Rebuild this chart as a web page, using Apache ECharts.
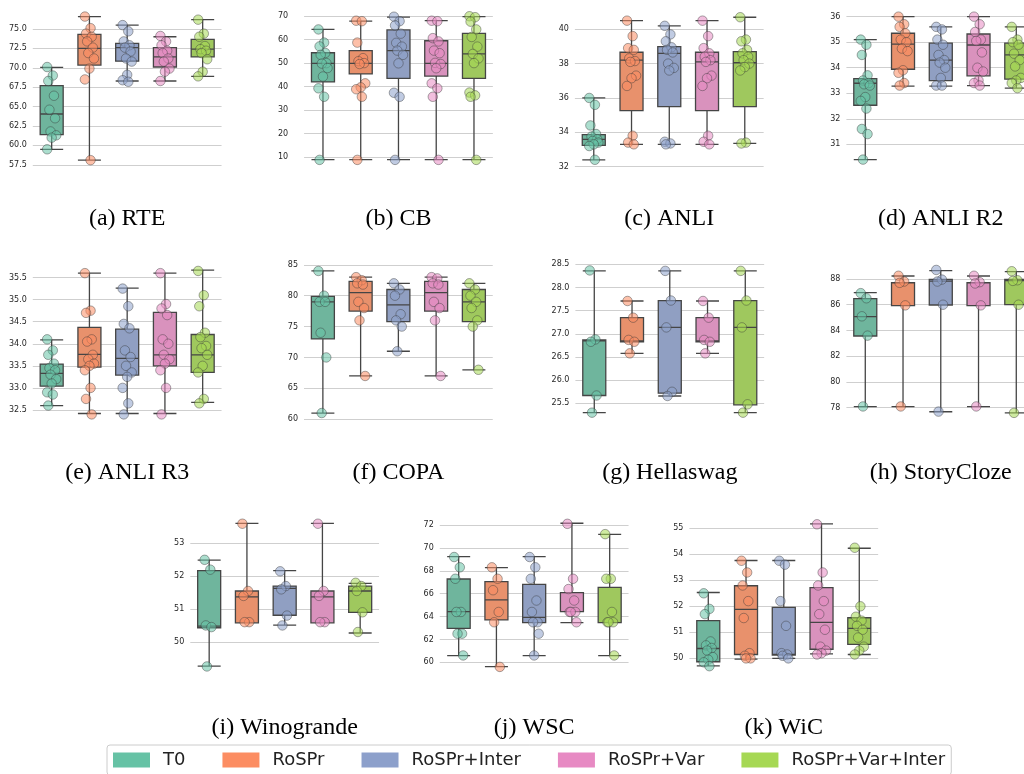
<!DOCTYPE html>
<html>
<head>
<meta charset="utf-8">
<title>Prompt robustness per task</title>
<script src="https://cdn.jsdelivr.net/npm/echarts@6/dist/echarts.min.js"></script>
<style>
  html, body { margin: 0; padding: 0; background: #fff; }
  #chart { width: 1024px; height: 774px; }
</style>
</head>
<body>
<div id="chart"></div>
<script>
const GROUPS = ['T0', 'RoSPr', 'RoSPr+Inter', 'RoSPr+Var', 'RoSPr+Var+Inter'];

// box = [lower whisker, Q1, median, Q3, upper whisker]
const rteBox = [[59.5, 61.4, 64.05, 67.7, 70.05], [58.1, 70.35, 72.5, 74.3, 76.6], [68.3, 70.85, 72.6, 73.15, 75.5], [68.3, 70.1, 71.4, 72.6, 74.0], [68.9, 71.4, 72.4, 73.65, 76.2]];
const rtePoints = [
  [70.1, 69.0, 68.3, 66.4, 64.6, 63.5, 61.8, 61.3, 61.0, 59.5],
  [76.6, 75.1, 74.4, 74.0, 73.4, 72.6, 71.9, 71.2, 69.9, 68.5, 58.1],
  [75.5, 74.7, 73.4, 72.9, 72.6, 72.1, 71.2, 70.8, 69.1, 68.4, 68.2],
  [74.1, 73.4, 72.9, 72.2, 71.9, 71.2, 70.8, 69.9, 69.5, 68.3],
  [76.2, 74.4, 74.0, 72.8, 72.4, 72.2, 71.9, 71.1, 69.5, 68.9]
];
const rteTicks = [57.5, 60, 62.5, 65, 67.5, 70, 72.5, 75];

const cbBox = [[9.0, 42.0, 49.9, 54.4, 64.3], [9.0, 45.4, 49.9, 55.3, 67.8], [9.0, 43.5, 55.3, 64.1, 69.5], [9.0, 44.5, 49.9, 59.5, 68.0], [9.0, 43.5, 53.9, 62.6, 69.7]];
const cbPoints = [
  [64.3, 58.7, 57.1, 54.3, 53.5, 50.0, 49.8, 47.9, 44.3, 39.3, 35.7, 8.9],
  [68.0, 67.8, 58.7, 52.1, 50.8, 50.0, 49.6, 41.4, 39.7, 38.9, 35.7, 8.9],
  [69.7, 67.8, 66.0, 62.5, 58.6, 57.0, 55.3, 53.5, 49.9, 37.4, 35.7, 8.9],
  [68.0, 67.8, 60.6, 59.2, 55.3, 54.2, 50.1, 49.6, 47.8, 41.4, 39.3, 35.7, 8.9],
  [69.9, 69.5, 67.6, 64.3, 61.1, 57.0, 53.9, 52.0, 50.0, 37.5, 36.3, 35.7, 8.9]
];
const cbTicks = [10, 20, 30, 40, 50, 60, 70];

const anliBox = [[32.4, 33.24, 33.59, 33.86, 36.0], [33.3, 35.26, 38.2, 38.66, 40.5], [33.3, 35.5, 38.6, 38.99, 40.2], [33.3, 35.26, 38.1, 38.66, 40.5], [33.35, 35.5, 38.05, 38.7, 40.7]];
const anliPoints = [
  [36.0, 35.6, 34.4, 33.9, 33.75, 33.6, 33.5, 33.4, 33.3, 33.2, 32.4],
  [40.5, 39.6, 38.9, 38.8, 38.3, 38.15, 38.1, 37.3, 37.15, 36.7, 33.8, 33.4, 33.3],
  [40.2, 39.7, 39.3, 38.95, 38.8, 38.65, 38.0, 37.75, 37.6, 33.45, 33.35, 33.3],
  [40.5, 39.6, 38.9, 38.6, 38.4, 38.2, 38.1, 37.3, 37.15, 36.7, 33.8, 33.45, 33.3],
  [40.7, 39.4, 39.3, 38.8, 38.6, 38.4, 38.2, 38.0, 37.8, 37.6, 33.4, 33.35]
];
const anliTicks = [32, 34, 36, 38, 40];

const anli2Box = [[30.4, 32.53, 33.39, 33.57, 35.1], [33.28, 33.94, 34.92, 35.35, 36.0], [33.28, 33.49, 34.3, 34.96, 35.6], [33.3, 33.68, 34.89, 35.32, 36.0], [33.2, 33.55, 34.5, 34.96, 35.6]];
const anli2Points = [
  [35.1, 34.9, 34.5, 33.7, 33.5, 33.4, 33.35, 33.3, 32.85, 32.7, 32.4, 31.6, 31.4, 30.4],
  [36.0, 35.7, 35.6, 35.35, 35.1, 35.0, 34.75, 34.65, 33.9, 33.8, 33.4, 33.3],
  [35.6, 35.5, 35.1, 34.9, 34.5, 34.3, 34.2, 34.0, 33.6, 33.3, 33.3],
  [36.0, 35.7, 35.4, 35.1, 35.05, 34.6, 34.0, 33.85, 33.5, 33.4, 33.3],
  [35.6, 35.1, 35.0, 34.9, 34.55, 34.3, 34.05, 33.6, 33.5, 33.4, 33.2]
];
const anli2Ticks = [31, 32, 33, 34, 35, 36];

const anli3Box = [[32.6, 33.04, 33.33, 33.54, 34.09], [32.42, 33.47, 33.76, 34.37, 35.6], [32.42, 33.29, 33.67, 34.33, 35.26], [32.42, 33.5, 33.75, 34.71, 35.6], [32.67, 33.35, 33.75, 34.21, 35.67]];
const anli3Points = [
  [34.1, 33.85, 33.75, 33.55, 33.45, 33.4, 33.3, 33.2, 33.1, 32.9, 32.85, 32.6],
  [35.6, 34.75, 34.7, 34.1, 34.05, 33.75, 33.65, 33.55, 33.5, 33.4, 33.0, 32.75, 32.4],
  [35.25, 34.85, 34.45, 34.35, 33.85, 33.7, 33.5, 33.35, 33.25, 33.0, 32.65, 32.4],
  [35.6, 34.9, 34.8, 34.65, 34.1, 34.0, 33.75, 33.65, 33.55, 33.4, 33.0, 32.4],
  [35.65, 35.1, 34.85, 34.25, 34.15, 33.95, 33.9, 33.75, 33.5, 33.35, 32.75, 32.65]
];
const anli3Ticks = [32.5, 33, 33.5, 34, 34.5, 35, 35.5];

const copaBox = [[61, 73, 79, 79.9, 84], [67, 77.5, 80.5, 82.3, 83], [71, 75.8, 78.5, 81, 82], [67, 77.5, 80.5, 82.3, 83], [68, 75.8, 79, 81, 82]];
const copaPoints = [
  [84, 80, 79, 79, 74, 70, 61],
  [83, 82.5, 82, 81.8, 79, 78, 76, 67],
  [82, 81, 80, 77, 76, 75, 71],
  [83, 82.8, 82, 81.8, 79, 78, 76, 67],
  [82, 81, 80, 79, 78, 76, 75, 68]
];
const copaTicks = [60, 65, 70, 75, 80, 85];

const hellaBox = [[25.3, 25.67, 26.85, 26.87, 28.36], [26.58, 26.83, 26.85, 27.35, 27.71], [25.66, 25.72, 27.14, 27.72, 28.36], [26.58, 26.83, 26.85, 27.35, 27.71], [25.3, 25.47, 27.14, 27.72, 28.36]];
const hellaPoints = [
  [28.37, 26.88, 26.83, 25.67, 25.3],
  [27.71, 27.35, 26.87, 26.83, 26.58],
  [28.36, 27.72, 27.14, 25.75, 25.66],
  [27.71, 27.35, 26.87, 26.83, 26.58],
  [28.36, 27.72, 27.14, 25.48, 25.3]
];
const hellaTicks = [25.5, 26, 26.5, 27, 27.5, 28, 28.5];

const storyBox = [[78.08, 83.57, 85.07, 86.47, 86.94], [78.08, 85.93, 87.7, 87.72, 88.23], [77.69, 85.98, 87.84, 87.97, 88.65], [78.08, 85.93, 87.7, 87.72, 88.23], [77.6, 86.0, 87.87, 87.97, 88.57]];
const storyPoints = [
  [86.9, 86.5, 85.1, 83.6, 78.1],
  [88.25, 87.8, 87.7, 85.95, 78.1],
  [88.7, 87.95, 87.8, 86.0, 77.7],
  [88.25, 87.75, 87.65, 85.95, 78.1],
  [88.6, 87.9, 87.85, 86.0, 77.6]
];
const storyTicks = [78, 80, 82, 84, 86, 88];

const winoBox = [[49.26, 50.43, 50.48, 52.17, 52.49], [50.58, 50.58, 51.37, 51.55, 53.61], [50.51, 50.81, 51.63, 51.7, 52.17], [50.58, 50.58, 51.37, 51.55, 53.61], [50.27, 50.9, 51.55, 51.7, 51.78]];
const winoPoints = [
  [52.5, 52.2, 50.5, 50.45, 49.25],
  [53.6, 51.55, 51.4, 50.6, 50.6],
  [52.15, 51.7, 51.6, 50.8, 50.5],
  [53.6, 51.55, 51.4, 50.6, 50.6],
  [51.8, 51.7, 51.55, 50.9, 50.3]
];
const winoTicks = [50, 51, 52, 53];

const wscBox = [[60.58, 62.97, 64.43, 67.28, 69.23], [59.62, 63.7, 65.45, 67.05, 68.27], [60.58, 63.47, 63.93, 66.81, 69.23], [63.47, 64.43, 64.43, 66.09, 72.15], [60.58, 63.47, 63.47, 66.55, 71.18]];
const wscPoints = [
  [69.2, 68.3, 67.3, 64.4, 64.4, 62.5, 62.5, 60.6],
  [68.3, 67.3, 66.3, 64.4, 63.5, 59.6],
  [69.2, 68.3, 67.3, 65.4, 64.4, 63.5, 63.5, 62.5, 60.6],
  [72.1, 67.3, 66.4, 65.4, 64.4, 64.4, 64.4, 63.5],
  [71.2, 67.3, 67.3, 64.4, 63.5, 63.5, 63.5, 60.6]
];
const wscTicks = [60, 62, 64, 66, 68, 70, 72];

const wicBox = [[49.71, 49.87, 50.38, 51.45, 52.53], [49.97, 50.15, 51.88, 52.79, 53.76], [50.0, 50.13, 50.15, 51.96, 53.76], [50.17, 50.35, 51.38, 52.72, 55.17], [50.15, 50.54, 51.15, 51.56, 54.23]];
const wicPoints = [
  [52.5, 51.9, 51.7, 50.65, 50.5, 50.4, 50.3, 50.05, 49.95, 49.85, 49.7],
  [53.75, 53.3, 52.8, 52.2, 51.55, 50.2, 50.1, 50.0, 50.0],
  [53.75, 53.6, 52.2, 51.25, 50.2, 50.15, 50.1, 50.0],
  [55.15, 53.3, 52.8, 52.2, 51.7, 51.1, 50.45, 50.3, 50.2, 50.15],
  [54.25, 52.0, 51.6, 51.45, 51.25, 51.1, 50.8, 50.45, 50.3, 50.15]
];
const wicTicks = [50, 51, 52, 53, 54, 55];

// Set2 for points/legend, seaborn-desaturated for box faces
const COLORS = ['#66c2a5', '#fc8d62', '#8da0cb', '#e78ac3', '#a6d854'];
const BOX_COLORS = ['#6fb59d', '#e8916c', '#909fc2', '#d992bd', '#9fc85e'];

const BAND = 37.75;
const ROW1 = {top: 9.5, height: 157.5, titleY: 219};
const ROW2 = {top: 263, height: 158, titleY: 473};
const ROW3 = {top: 516.5, height: 157.5, titleY: 728};

const PANELS = [
  {title: '(a) RTE', box: rteBox, points: rtePoints, ticks: rteTicks, digits: 1, left: 32.8, row: ROW1, min: 57.22, max: 77.51},
  {title: '(b) CB', box: cbBox, points: cbPoints, ticks: cbTicks, digits: 0, left: 304.1, row: ROW1, min: 5.88, max: 72.76, margin: 16},
  {title: '(c) ANLI', box: anliBox, points: anliPoints, ticks: anliTicks, digits: 0, left: 574.9, row: ROW1, min: 31.98, max: 41.15},
  {title: '(d) ANLI R2', box: anli2Box, points: anli2Points, ticks: anli2Ticks, digits: 0, left: 846.4, row: ROW1, min: 30.11, max: 36.28},
  {title: '(e) ANLI R3', box: anli3Box, points: anli3Points, ticks: anli3Ticks, digits: 1, left: 32.8, row: ROW2, min: 32.25, max: 35.83},
  {title: '(f) COPA', box: copaBox, points: copaPoints, ticks: copaTicks, digits: 0, left: 304, row: ROW2, min: 59.71, max: 85.29},
  {title: '(g) Hellaswag', box: hellaBox, points: hellaPoints, ticks: hellaTicks, digits: 1, left: 575.4, row: ROW2, min: 25.12, max: 28.53},
  {title: '(h) StoryCloze', box: storyBox, points: storyPoints, ticks: storyTicks, digits: 0, left: 846.4, row: ROW2, min: 76.97, max: 89.24},
  {title: '(i) Winogrande', box: winoBox, points: winoPoints, ticks: winoTicks, digits: 0, left: 190.3, row: ROW3, min: 49.02, max: 53.82},
  {title: '(j) WSC', box: wscBox, points: wscPoints, ticks: wscTicks, digits: 0, left: 439.8, row: ROW3, min: 58.98, max: 72.74},
  {title: '(k) WiC', box: wicBox, points: wicPoints, ticks: wicTicks, digits: 0, left: 689.4, row: ROW3, min: 49.40, max: 55.45}
];

// stripplot-like spread, fixed so every render is the same
const jitter = j => ((j * 5) % 9 - 4) * 0.03;

const grid = [];
const xAxis = [];
const yAxis = [];
const series = [];
const title = [];

PANELS.forEach((p, i) => {
  grid.push({
    left: p.left, top: p.row.top, width: BAND * 5, height: p.row.height,
    containLabel: false, outerBoundsMode: 'none'
  });
  xAxis.push({type: 'category', gridIndex: i, data: GROUPS, show: false});
  xAxis.push({type: 'value', gridIndex: i, min: -0.5, max: 4.5, show: false});
  yAxis.push({
    type: 'value',
    gridIndex: i,
    min: p.min,
    max: p.max,
    axisLine: {show: false},
    axisTick: {show: false, customValues: p.ticks},
    axisLabel: {
      customValues: p.ticks,
      margin: p.margin || 6,
      fontSize: 8,
      fontFamily: 'DejaVu Sans',
      color: '#262626',
      formatter: v => Number(v).toFixed(p.digits)
    },
    splitLine: {show: true, lineStyle: {color: '#cfcfcf', width: 1.2}}
  });

  series.push({
    type: 'boxplot',
    xAxisIndex: i * 2,
    yAxisIndex: i,
    silent: true,
    boxWidth: [23, 23],
    z: 2,
    itemStyle: {borderColor: '#454545', borderWidth: 1.3},
    data: p.box.map((b, k) => ({value: b, itemStyle: {color: BOX_COLORS[k]}}))
  });

  const pts = [];
  p.points.forEach((vals, k) => {
    vals.forEach((v, j) => {
      pts.push({value: [k + jitter(j), v], itemStyle: {color: COLORS[k]}});
    });
  });
  series.push({
    type: 'scatter',
    xAxisIndex: i * 2 + 1,
    yAxisIndex: i,
    silent: true,
    z: 3,
    symbolSize: 9.5,
    itemStyle: {opacity: 0.55, borderColor: '#3a3a3a', borderWidth: 0.8},
    data: pts
  });

  title.push({
    text: p.title,
    left: p.left + BAND * 2.5,
    top: p.row.titleY,
    textAlign: 'center',
    textVerticalAlign: 'middle',
    padding: 0,
    textStyle: {fontFamily: 'Liberation Serif', fontSize: 24, fontWeight: 'normal', color: '#000'}
  });
});

// empty series only so the legend gets its swatches
GROUPS.forEach((name, k) => {
  series.push({type: 'scatter', name: name, xAxisIndex: 0, yAxisIndex: 0, data: [], itemStyle: {color: COLORS[k], opacity: 1}});
});

const chart = echarts.init(document.getElementById('chart'));
chart.setOption({
  animation: false,
  backgroundColor: '#fff',
  title: title,
  grid: grid,
  xAxis: xAxis,
  yAxis: yAxis,
  legend: {
    data: GROUPS,
    left: 107,
    top: 745,
    icon: 'rect',
    itemWidth: 37,
    itemHeight: 15,
    itemGap: 37,
    padding: [6, 6, 6, 6],
    borderColor: '#cccccc',
    borderWidth: 1,
    borderRadius: 3,
    backgroundColor: '#fff',
    selectedMode: false,
    itemStyle: {opacity: 1},
    textStyle: {fontFamily: 'DejaVu Sans', fontSize: 18, color: '#222', padding: [0, 0, 0, 8]}
  },
  series: series
});
</script>
</body>
</html>
